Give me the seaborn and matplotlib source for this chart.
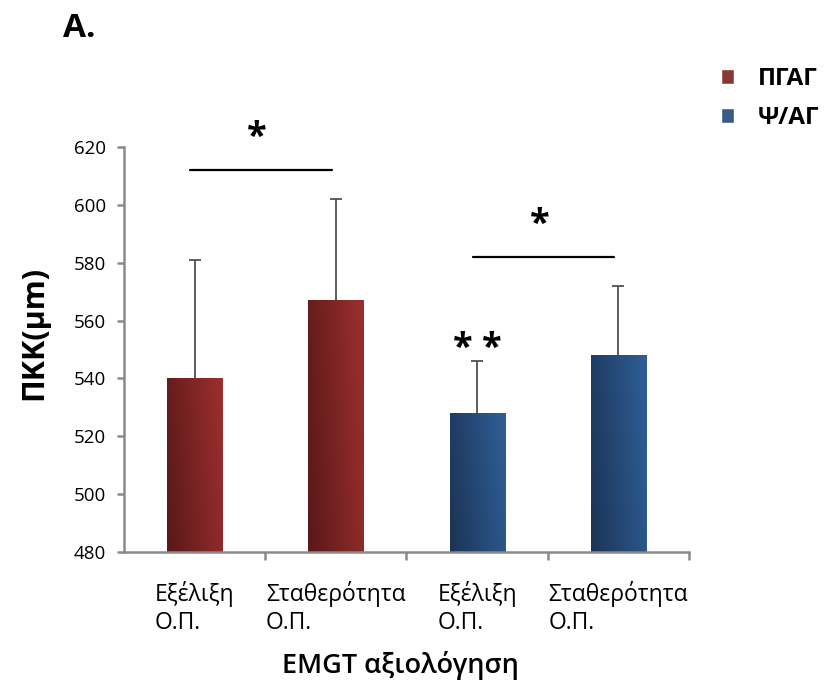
import numpy as np
import pandas as pd
import seaborn as sns
from matplotlib import pyplot as plt
from matplotlib.colors import LinearSegmentedColormap

# data
keys = ['ΠΓΑΓ-Εξέλιξη', 'ΠΓΑΓ-Σταθερότητα', 'Ψ/ΑΓ-Εξέλιξη', 'Ψ/ΑΓ-Σταθερότητα']
tick_labels = ['Εξέλιξη\nΟ.Π.', 'Σταθερότητα\nΟ.Π.', 'Εξέλιξη\nΟ.Π.', 'Σταθερότητα\nΟ.Π.']
groups = ['ΠΓΑΓ', 'ΠΓΑΓ', 'Ψ/ΑΓ', 'Ψ/ΑΓ']
means = [540, 567, 528, 548]
sd = [41, 35, 18, 24]
pairs = [(0, 1), (2, 3)]   # "*" brackets
double_star = [2]          # "**" above bar

palette = {'ΠΓΑΓ': '#962b2b', 'Ψ/ΑΓ': '#2b5b92'}
grad = {'ΠΓΑΓ': ['#5a1818', '#9c2f2f'], 'Ψ/ΑΓ': ['#1b3456', '#2f5f97']}

sns.set_style('white')
plt.rcParams['font.family'] = ['Open Sans', 'DejaVu Sans']
plt.rcParams['text.color'] = 'black'
plt.rcParams['axes.labelcolor'] = 'black'
plt.rcParams['xtick.color'] = 'black'
plt.rcParams['ytick.color'] = 'black'

df = pd.DataFrame({'key': keys, 'group': groups, 'mean': means})

fig = plt.figure(figsize=(8.29, 6.84), dpi=100)
ax = fig.add_axes([124 / 829, 1 - 552 / 684, 565 / 829, 405 / 684])

sns.barplot(data=df, x='key', y='mean', hue='group', order=keys, dodge=False,
            palette=palette, width=0.39, errorbar=None, ax=ax)
ax.set_ylim(480, 620)
ax.set_xlim(-0.5, 3.5)

# bars in category order
bars = sorted([b for c in ax.containers for b in c], key=lambda b: b.get_x())
xs = [b.get_x() + b.get_width() / 2 for b in bars]

# gradient fill, darker on the left
for b, g in zip(bars, groups):
    cmap = LinearSegmentedColormap.from_list('g', grad[g])
    img = np.linspace(0, 1, 50)[None, :] * 0.8 + np.linspace(0, 0.2, 50)[:, None]
    y0 = max(b.get_y(), 480)
    im = ax.imshow(img, cmap=cmap, aspect='auto', origin='lower', zorder=b.get_zorder() + 0.1,
                   extent=[b.get_x(), b.get_x() + b.get_width(), y0, b.get_height()])
    im.set_clip_path(b)
ax.set_ylim(480, 620)
ax.set_xlim(-0.5, 3.5)

_, caps, _ = ax.errorbar(xs, means, yerr=[np.zeros(len(sd)), sd], fmt='none', ecolor='#505050',
                         elinewidth=1.3, capsize=4.5, capthick=1.3, zorder=1)
for c in caps:
    if np.allclose(c.get_ydata(), means):
        c.set_visible(False)

tops = [m + s for m, s in zip(means, sd)]
for i, j in pairs:
    yl = max(tops[i], tops[j]) + 10
    ax.plot([xs[i] - 0.03, xs[j] - 0.03], [yl, yl], color='black', lw=1.6, clip_on=False)
    ax.text((xs[i] + xs[j]) / 2 - 0.06, yl + 5, '*', ha='center', va='bottom',
            fontsize=26, fontweight='bold', clip_on=False)
for i in double_star:
    ax.text(xs[i], tops[i - 0] - 2, '* *', ha='center', va='bottom',
            fontsize=26, fontweight='bold', clip_on=False)

# axes styling
for s in ['top', 'right']:
    ax.spines[s].set_visible(False)
for s in ['left', 'bottom']:
    ax.spines[s].set_color('#8a8a8a')
    ax.spines[s].set_linewidth(1.8)
ax.set_yticks(range(480, 621, 20))
ax.tick_params(axis='y', left=True, length=5, width=1.8, color='#8a8a8a', labelsize=13.5, pad=8)
ax.set_xticks(range(len(keys)))
ax.set_xticklabels(tick_labels, multialignment='left', fontsize=16.5)
ax.tick_params(axis='x', length=0, pad=21)
ax.set_xticks([0.5, 1.5, 2.5, 3.5], minor=True)
ax.tick_params(axis='x', which='minor', bottom=True, length=6, width=1.8, color='#8a8a8a')

ax.set_ylabel('ΠΚΚ(μm)', fontsize=22, fontweight='bold')
ax.yaxis.set_label_coords(-0.133, 0.54)
ax.set_xlabel('EMGT αξιολόγηση', fontsize=19.5, fontweight='semibold')
ax.xaxis.set_label_coords(0.49, -0.245)

sns.move_legend(ax, 'upper left', bbox_to_anchor=(721 / 829, 1 - 67 / 684),
                bbox_transform=fig.transFigure, frameon=False, title=None,
                prop={'size': 17.5, 'weight': 'bold'}, handlelength=0.55, handleheight=0.55,
                handletextpad=0.95, labelspacing=0.62, borderpad=0, borderaxespad=0)

fig.text(63 / 829, 1 - 37 / 684, 'A.', fontsize=24, fontweight='bold', va='baseline')

fig.savefig('out.png', dpi=100)
